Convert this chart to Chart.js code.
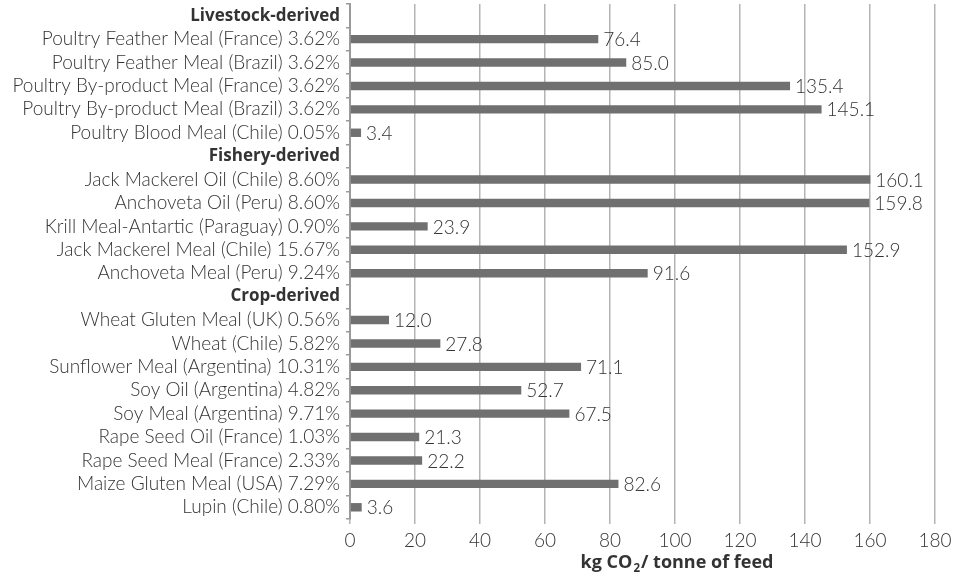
<!DOCTYPE html>
<html>
<head>
<meta charset="utf-8">
<script src="https://cdn.jsdelivr.net/npm/chart.js@4.4.0/dist/chart.umd.min.js"></script>
<style>
  html, body { margin: 0; padding: 0; background: #fff; }
  #wrap { width: 969px; height: 576px; }
</style>
</head>
<body>
<div id="wrap"><canvas id="myChart"></canvas></div>
<script>
// rows top to bottom, null value = section header
const labels = [
    'Livestock-derived',
    'Poultry Feather Meal (France) 3.62%',
    'Poultry Feather Meal (Brazil) 3.62%',
    'Poultry By-product Meal (France) 3.62%',
    'Poultry By-product Meal (Brazil) 3.62%',
    'Poultry Blood Meal (Chile) 0.05%',
    'Fishery-derived',
    'Jack Mackerel Oil (Chile) 8.60%',
    'Anchoveta Oil (Peru) 8.60%',
    'Krill Meal-Antartic (Paraguay) 0.90%',
    'Jack Mackerel Meal (Chile) 15.67%',
    'Anchoveta Meal (Peru) 9.24%',
    'Crop-derived',
    'Wheat Gluten Meal (UK) 0.56%',
    'Wheat (Chile) 5.82%',
    'Sunflower Meal (Argentina) 10.31%',
    'Soy Oil (Argentina) 4.82%',
    'Soy Meal (Argentina) 9.71%',
    'Rape Seed Oil (France) 1.03%',
    'Rape Seed Meal (France) 2.33%',
    'Maize Gluten Meal (USA) 7.29%',
    'Lupin (Chile) 0.80%'
];
const values = [
    null, 76.4, 85.0, 135.4, 145.1, 3.4,
    null, 160.1, 159.8, 23.9, 152.9, 91.6,
    null, 12.0, 27.8, 71.1, 52.7, 67.5, 21.3, 22.2, 82.6, 3.6
];
const headers = ['Livestock-derived', 'Fishery-derived', 'Crop-derived'];
const xTicks = [0, 20, 40, 60, 80, 100, 120, 140, 160, 180];

const FONT = 'Lato, "Open Sans", sans-serif';
const BOLD = '"Open Sans", Lato, sans-serif';
const TEXT = '#333';
const SIZE = 19;

// value labels at the end of each bar + axis title with subscript
const extras = {
    id: 'extras',
    afterDatasetsDraw(chart) {
        const ctx = chart.ctx;
        const meta = chart.getDatasetMeta(0);
        ctx.save();
        ctx.font = '300 ' + SIZE + 'px ' + FONT;
        ctx.fillStyle = TEXT;
        ctx.textAlign = 'left';
        ctx.textBaseline = 'middle';
        meta.data.forEach((bar, i) => {
            if (values[i] == null) return;
            ctx.fillText(values[i].toFixed(1), bar.x + 5, bar.y + 1);
        });

        // x axis title: kg CO2 / tonne of feed
        const parts = ['kg CO', '2', '/ tonne of feed'];
        const big = 'bold 18px ' + BOLD;
        const small = 'bold 11.5px ' + BOLD;
        ctx.font = big;
        const w0 = ctx.measureText(parts[0]).width;
        const w2 = ctx.measureText(parts[2]).width;
        ctx.font = small;
        const w1 = ctx.measureText(parts[1]).width + 2;
        const x = 677 - (w0 + w1 + w2) / 2;
        const y = 563;
        ctx.font = big;
        ctx.fillText(parts[0], x, y);
        ctx.font = small;
        ctx.fillText(parts[1], x + w0 + 1, y + 6);
        ctx.font = big;
        ctx.fillText(parts[2], x + w0 + w1, y);
        ctx.restore();
    }
};

const ctx = document.getElementById('myChart').getContext('2d');
const myChart = new Chart(ctx, {
    type: 'bar',
    data: {
        labels: labels,
        datasets: [{
            data: values,
            backgroundColor: '#707070',
            barPercentage: 0.36,
            categoryPercentage: 1.0
        }]
    },
    options: {
        indexAxis: 'y',
        responsive: true,
        maintainAspectRatio: false,
        animation: false,
        layout: { padding: { top: 4, right: 34, bottom: 0, left: 0 } },
        plugins: {
            legend: { display: false },
            tooltip: { enabled: false }
        },
        scales: {
            x: {
                min: 0,
                max: 180,
                afterBuildTicks: s => { s.ticks = xTicks.map(v => ({ value: v })); },
                afterFit: s => { s.height = 57; },
                grid: {
                    color: '#b4b4b4',
                    lineWidth: 1.5,
                    tickLength: 5,
                    drawTicks: true
                },
                border: { display: false },
                ticks: {
                    color: TEXT,
                    font: { family: FONT, size: SIZE, weight: '300' },
                    padding: 5
                }
            },
            y: {
                afterFit: s => {
                    s.width = 350;
                    s.paddingTop = 0;
                    s.paddingBottom = 0;
                },
                grid: {
                    offset: true,
                    drawOnChartArea: false,
                    tickLength: 4,
                    color: '#9a9a9a',
                    lineWidth: 1.5
                },
                border: { display: true, color: '#9a9a9a', width: 2 },
                ticks: {
                    color: TEXT,
                    autoSkip: false,
                    padding: 6,
                    font: c => headers.includes(labels[c.index])
                        ? { family: BOLD, size: 17, weight: 'bold' }
                        : { family: FONT, size: SIZE, weight: '300' }
                }
            }
        }
    },
    plugins: [extras]
});
</script>
</body>
</html>
